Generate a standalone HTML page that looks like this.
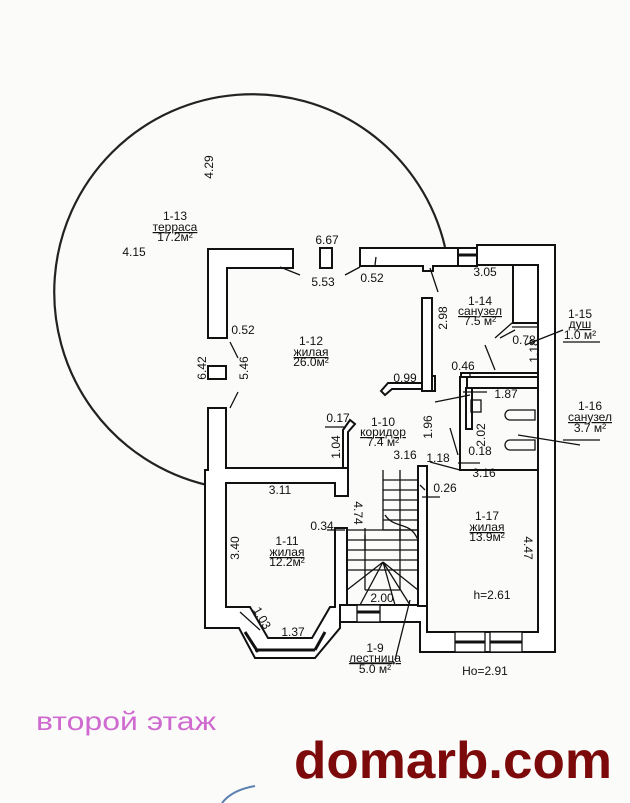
<!DOCTYPE html>
<html><head><meta charset="utf-8"><style>
html,body{margin:0;padding:0;background:#fbfbfa;}
svg{display:block}
text{font-family:"Liberation Sans Narrow","Liberation Sans",sans-serif;fill:#111;}
</style></head><body>
<svg width="630" height="803" viewBox="0 0 630 803" xmlns="http://www.w3.org/2000/svg">
<rect width="630" height="803" fill="#fbfbfa"/>
<path d="M207,485 A198,198 0 1 1 445,247" fill="none" stroke="#222" stroke-width="2.2"/>
<g fill="#fff" stroke="#111" stroke-width="2">
<path d="M208,249 H293 V268 H227 V338 H208 Z"/>
<rect x="320" y="248" width="12" height="20"/>
<rect x="208" y="366" width="18" height="13"/>
<path d="M360,248 H458 V266 H433 V271 H423 V266 H360 Z"/>
<rect x="458" y="248" width="19" height="18"/>
<path d="M477,245 H555 V652 H420 V622 H340 V605 H347 V605 H418 V605 H427 V632 H538 V265 H477 Z"/>
<path d="M208,408 H226 V468 H348 V496 H335 V483 H226 V607 H250 L268,638 H312 L330,607 H335 V528 H347 V605 H340 V628 L315,658 H255 L239,628 H205 V470 H208 Z"/>
<rect x="422" y="298" width="10" height="93"/>
<rect x="432" y="376" width="3" height="15"/>
<rect x="418" y="466" width="9" height="140"/>
<path d="M343,430 L350,420 L355,424 L348,432 V468 H343 Z"/>
<path d="M381,391 L388,383 H422 V389 H392 L385,395 Z"/>
<rect x="461" y="373" width="77" height="4"/>
<path d="M460,377 H467 V388 H538 V470 H460 Z" fill="none"/>
<rect x="466" y="388" width="6" height="41"/>
<rect x="513" y="265" width="25" height="58"/>
</g>
<g stroke="#111" stroke-width="1.3" fill="none">
<line x1="458" y1="255" x2="477" y2="255" stroke-width="3"/>
<line x1="255" y1="650" x2="315" y2="650" stroke-width="3"/>
<line x1="245" y1="632" x2="258" y2="652" stroke-width="3"/>
<line x1="325" y1="632" x2="315" y2="650" stroke-width="3"/>
<rect x="357" y="605" width="23" height="17" fill="#fff"/>
<line x1="357" y1="612" x2="380" y2="612" stroke-width="3"/>
<rect x="455" y="632" width="30" height="20" fill="#fff"/>
<rect x="490" y="632" width="32" height="20" fill="#fff"/>
<line x1="455" y1="642" x2="485" y2="642" stroke-width="3"/>
<line x1="490" y1="642" x2="522" y2="642" stroke-width="3"/>
<path d="M495,338 L512,323 H538 M512,327 H538 M500,338 L515,330"/>
<path d="M383,470 V530 M400,470 V540"/>
<path d="M383,480 H418 M383,490 H418 M383,500 H418 M383,510 H418 M383,520 H418 M383,530 H418"/>
<path d="M385,515 C395,530 410,520 418,540"/>
<path d="M347,530 H418 M347,540 H418 M347,550 H418 M347,560 H418 M347,570 H418"/>
<path d="M365,528 V590 M400,528 V590 M365,590 H400"/>
<path d="M383,562 L347,590 M383,562 L360,605 M383,562 L395,605 M383,562 L418,590 M383,562 L410,605"/>
<path d="M365,535 V550"/>
<rect x="471" y="400" width="10" height="12"/>
<path d="M510,410 h25 v10 h-25 a5,5 0 0 1 0,-10z"/>
<path d="M510,440 h25 v10 h-25 a5,5 0 0 1 0,-10z"/>
<path d="M280,267 L300,275 M345,275 L360,267 M376,257 L375,265"/>
<path d="M430,268 L438,292"/>
<path d="M230,342 L238,358 M238,392 L230,408"/>
<path d="M485,345 L495,370 M563,330 L525,345 M518,435 L580,445"/>
<path d="M435,402 L470,395 M450,428 L458,455 M430,462 L460,470 M420,485 L425,490 M422,497 L440,497"/>
<path d="M240,612 L260,630 M410,600 L395,660 M350,663 L395,663 M470,378 L470,372"/>
<path d="M325,427 H345 M327,530 H345 M563,342 H600 M563,440 H600 M463,392 H487 M458,463 H480"/>
</g>
<g font-size="12" text-anchor="middle">
<text x="215" y="175" transform="rotate(-90 210 172)">4.29</text>
<text x="175" y="220">1-13</text>
<text x="175" y="231" text-decoration="underline">терраса</text>
<text x="175" y="241">17.2м²</text>
<text x="134" y="256">4.15</text>
<text x="327" y="244">6.67</text>
<text x="323" y="286">5.53</text>
<text x="372" y="282">0.52</text>
<text x="243" y="334">0.52</text>
<text x="311" y="345">1-12</text>
<text x="311" y="356" text-decoration="underline">жилая</text>
<text x="311" y="366">26.0м²</text>
<text x="202" y="372" transform="rotate(-90 202 368)">6.42</text>
<text x="244" y="372" transform="rotate(-90 244 368)">5.46</text>
<text x="443" y="322" transform="rotate(-90 443 318)">2.98</text>
<text x="485" y="276">3.05</text>
<text x="480" y="305">1-14</text>
<text x="480" y="315" text-decoration="underline">санузел</text>
<text x="480" y="325">7.5 м²</text>
<text x="524" y="344">0.78</text>
<text x="534" y="355" transform="rotate(-90 534 351)">1.18</text>
<text x="580" y="318">1-15</text>
<text x="580" y="328" text-decoration="underline">душ</text>
<text x="580" y="339">1.0 м²</text>
<text x="463" y="370">0.46</text>
<text x="405" y="382">0.99</text>
<text x="506" y="398">1.87</text>
<text x="590" y="410">1-16</text>
<text x="590" y="421" text-decoration="underline">санузел</text>
<text x="590" y="432">3.7 м²</text>
<text x="338" y="422">0.17</text>
<text x="383" y="426">1-10</text>
<text x="383" y="436" text-decoration="underline">коридор</text>
<text x="383" y="446">7.4 м²</text>
<text x="428" y="431" transform="rotate(-90 428 427)">1.96</text>
<text x="481" y="439" transform="rotate(-90 481 435)">2.02</text>
<text x="480" y="455">0.18</text>
<text x="336" y="451" transform="rotate(-90 336 447)">1.04</text>
<text x="405" y="459">3.16</text>
<text x="438" y="462">1.18</text>
<text x="484" y="477">3.16</text>
<text x="445" y="492">0.26</text>
<text x="280" y="494">3.11</text>
<text x="358" y="517" transform="rotate(90 358 513)">4.74</text>
<text x="322" y="530">0.34</text>
<text x="287" y="545">1-11</text>
<text x="287" y="556" text-decoration="underline">жилая</text>
<text x="287" y="566">12.2м²</text>
<text x="235" y="552" transform="rotate(-90 235 548)">3.40</text>
<text x="487" y="520">1-17</text>
<text x="487" y="531" text-decoration="underline">жилая</text>
<text x="487" y="541">13.9м²</text>
<text x="528" y="552" transform="rotate(90 528 548)">4.47</text>
<text x="492" y="599">h=2.61</text>
<text x="382" y="602">2.00</text>
<text x="262" y="622" transform="rotate(60 262 618)">1.03</text>
<text x="293" y="636">1.37</text>
<text x="375" y="652">1-9</text>
<text x="375" y="662" text-decoration="underline">лестница</text>
<text x="375" y="673">5.0 м²</text>
<text x="485" y="675">Ho=2.91</text>
</g>
<text x="36" y="730" font-size="26" textLength="180" lengthAdjust="spacingAndGlyphs" style="fill:#cf6bd0;font-family:'Liberation Sans',sans-serif">второй этаж</text>
<text x="294" y="778" font-size="52" font-weight="bold" textLength="318" lengthAdjust="spacingAndGlyphs" style="fill:#7d0a0a;font-family:'Liberation Sans',sans-serif">domarb.com</text>
<path d="M222,803 Q232,790 255,786" stroke="#5a7fb0" stroke-width="2" fill="none"/>
</svg>
</body></html>
